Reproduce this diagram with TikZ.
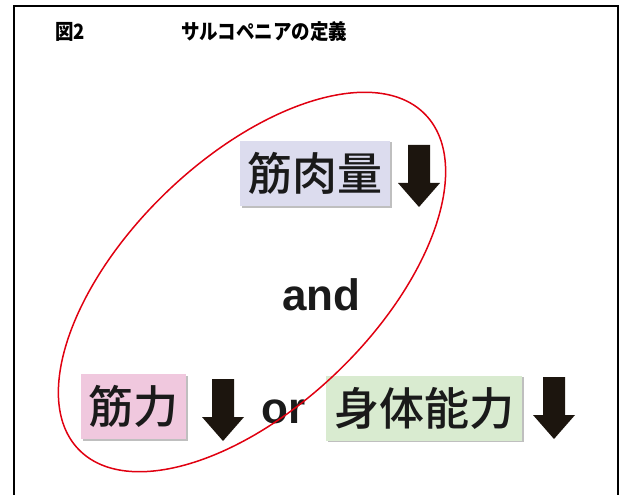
\documentclass[tikz,border=0pt]{standalone}
\usepackage{fontspec}
\setmainfont{Liberation Sans}
\newfontfamily\jp{Noto Sans CJK JP}
\newfontfamily\jpm{Noto Sans CJK JP Medium}
\usetikzlibrary{shadows}
\definecolor{arrowc}{HTML}{1C150E}
\definecolor{txtc}{HTML}{1A1A1A}
\definecolor{lav}{HTML}{DCDCEE}
\definecolor{pinkc}{HTML}{F0C8DE}
\definecolor{greenc}{HTML}{D9EBD0}
\definecolor{redc}{HTML}{E00010}
\begin{document}
\begin{tikzpicture}[x=1pt,y=-1pt,
  lbl/.style={font=\jpm\fontsize{45}{45}\selectfont, text=txtc, inner sep=0pt, minimum height=65pt,
    drop shadow={shadow xshift=1.5pt, shadow yshift=-1.5pt, opacity=0.25, fill=black}},
  word/.style={font=\bfseries\fontsize{44}{44}\selectfont, text=txtc, inner sep=0pt, anchor=base},
  ttl/.style={font=\jp\bfseries\fontsize{21}{21}\selectfont, inner sep=0pt, anchor=west, transform shape, xscale=0.88},
  dnarrow/.pic={\fill[arrowc] (-11,0) -- (11,0) -- (11,38) -- (21,38) -- (0,62) -- (-21,38) -- (-11,38) -- cycle;}
]
\useasboundingbox (0,0) rectangle (625,495);
% frame
\draw[line width=1.4pt] (14,495) -- (14,6) -- (618,6) -- (618,495);
% title
\node[ttl] (fig) at (55,32) {図2};
\node[ttl] (title) at (181,32) {サルコペニアの定義};
% boxes
\node[lbl, fill=lav, minimum width=150pt] (muscle) at (315,173.5) {筋肉量};
\node[lbl, fill=pinkc, minimum width=105pt] (strength) at (133.5,406.5) {筋力};
\node[lbl, fill=greenc, minimum width=196pt] (physical) at (424,408) {身体能力};
% arrows
\pic at (419,145) {dnarrow};
\pic at (223,379) {dnarrow};
\pic at (554,377) {dnarrow};
% words
\node[word] (and) at (321.5,310) {and};
\node[word] (or) at (283.5,423) {or};
% ellipse
\draw[redc, line width=1.5pt, rotate around={44:(252,282)}] (252,282) ellipse [x radius=241, y radius=124];
\end{tikzpicture}
\end{document}
